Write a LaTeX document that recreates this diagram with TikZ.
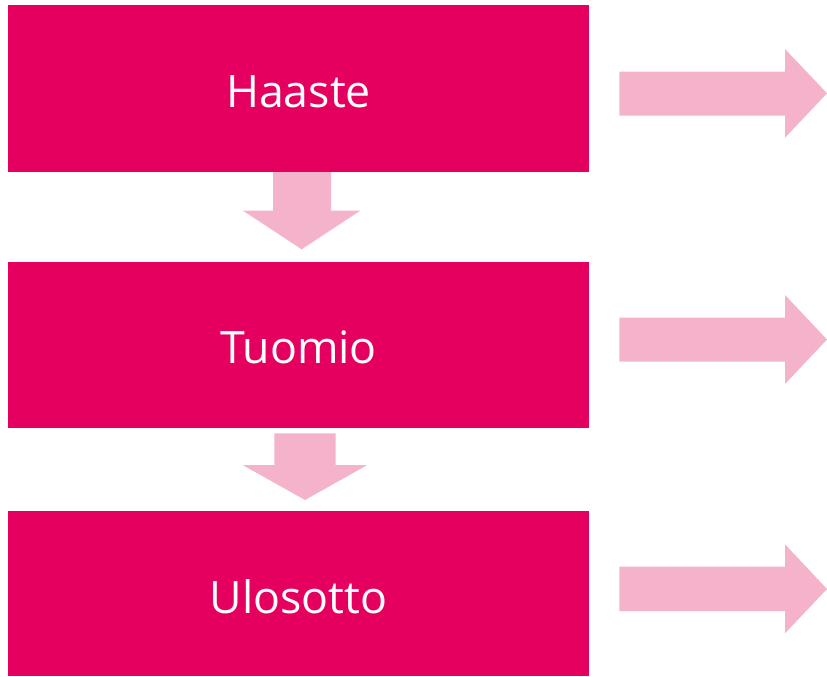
\documentclass[tikz,border=0pt]{standalone}
\usepackage{fontspec}
\setmainfont{Open Sans}
\definecolor{mag}{HTML}{E5005F}
\definecolor{pinkarrow}{HTML}{F5B3CB}
\begin{document}
\begin{tikzpicture}[x=0.75pt,y=-0.75pt,
  stagetext/.style={text=white,font=\fontsize{33.5}{38}\selectfont,inner sep=0pt,anchor=center},
  arrowshape/.style={fill=pinkarrow,draw=none}]
\useasboundingbox (0,0) rectangle (827,676);
% boxes
\fill[mag] (8,5) rectangle (589,172);
\fill[mag] (8,262) rectangle (589,428);
\fill[mag] (8,511) rectangle (589,676);
\node[stagetext] (haaste) at (298.5,92) {Haaste};
\node[stagetext] (tuomio) at (298.5,347) {Tuomio};
\node[stagetext] (ulosotto) at (298.5,597) {Ulosotto};
% down arrows
\fill[arrowshape] (273,172) -- (331,172) -- (331,210.5) -- (360.5,210.5) -- (301.7,249.3) -- (242.7,210.5) -- (273,210.5) -- cycle;
\fill[arrowshape] (274.3,433.3) -- (335.7,433.3) -- (335.7,465) -- (367.3,465) -- (305,500) -- (242.7,465) -- (274.3,465) -- cycle;
% right arrows
\fill[arrowshape] (619.3,71.7) -- (785,71.7) -- (785,49) -- (827,93.3) -- (785,137.7) -- (785,115.7) -- (619.3,115.7) -- cycle;
\fill[arrowshape] (619.3,317.7) -- (785,317.7) -- (785,295) -- (827,339.5) -- (785,384) -- (785,361.7) -- (619.3,361.7) -- cycle;
\fill[arrowshape] (619.3,566.7) -- (785,566.7) -- (785,544.3) -- (827,589) -- (785,633.3) -- (785,611) -- (619.3,611) -- cycle;
\end{tikzpicture}
\end{document}
